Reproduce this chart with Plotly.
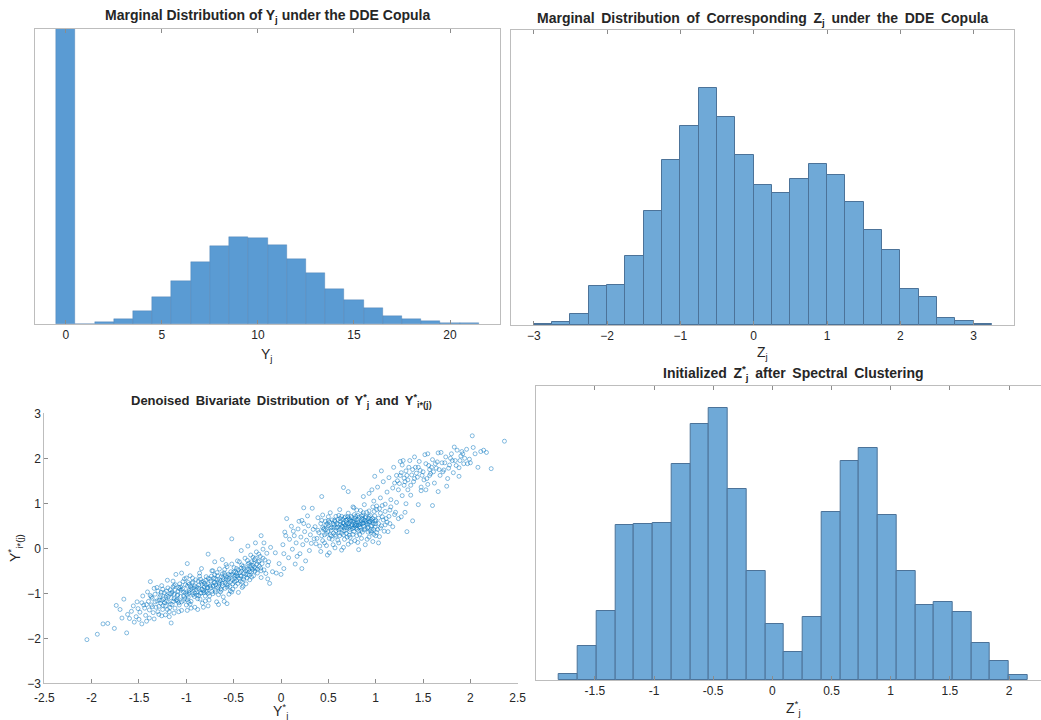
import plotly.graph_objects as go

# ---------------- data ----------------
# Panel 1: histogram of Y_j (integer bins)
p1_bins = list(range(0, 22))
p1_counts = [2000, 0, 6, 15, 39, 80, 130, 186, 233, 260, 257, 236, 195, 153,
             106, 71, 47, 24, 15, 8, 3, 2]
p1_ticks = [0, 5, 10, 15, 20]

# Panel 2: histogram of Z_j
p2_start, p2_width = -3.0, 0.25
p2_counts = [3, 8, 34, 117, 120, 207, 342, 494, 597, 710, 623, 509, 419, 396,
             437, 481, 450, 368, 285, 225, 108, 84, 20, 12, 3]
p2_ticks = [-3, -2, -1, 0, 1, 2, 3]

# Panel 4: histogram of Z*_j
p4_start, p4_width = -1.8026, 0.1584
p4_counts = [17, 102, 207, 464, 467, 471, 647, 768, 815, 572, 326, 167, 83,
             190, 503, 657, 696, 494, 326, 224, 233, 203, 110, 57, 14]
p4_ticks = [-1.5, -1, -0.5, 0, 0.5, 1, 1.5, 2]
p4_ticklabels = ["-1.5", "-1", "-0.5", "0", "0.5", "1", "1.5", "2"]

# Panel 3: scatter of (Y*_j, Y*_i*(j))
lower_cluster = [
    (-1.49,-1.42),(-1.47,-1.21),(-1.46,-1.06),(-1.44,-1.33),(-1.43,-1.49),(-1.41,-0.97),(-1.40,-1.18),
    (-1.39,-1.37),(-1.38,-0.74),(-1.37,-1.26),(-1.36,-1.11),(-1.35,-1.43),(-1.34,-0.89),(-1.33,-1.02),
    (-1.32,-1.31),(-1.31,-1.17),(-1.30,-0.95),(-1.29,-1.47),(-1.28,-1.08),(-1.27,-1.22),(-1.26,-0.83),
    (-1.25,-1.36),(-1.24,-1.13),(-1.23,-0.99),(-1.22,-1.28),(-1.21,-1.05),(-1.20,-0.71),(-1.19,-1.19),
    (-1.18,-1.41),(-1.17,-0.92),(-1.16,-1.10),(-1.15,-1.25),(-1.14,-0.86),(-1.13,-1.02),(-1.12,-1.33),
    (-1.11,-0.58),(-1.10,-1.14),(-1.09,-0.96),(-1.08,-1.21),(-1.07,-0.79),(-1.06,-1.07),(-1.05,-1.38),
    (-1.04,-0.90),(-1.03,-1.16),(-1.02,-0.68),(-1.01,-1.00),(-1.00,-1.26),(-0.99,-0.84),(-0.98,-1.09),
    (-0.97,-0.94),(-0.96,-0.61),(-0.95,-1.18),(-0.94,-0.77),(-0.93,-1.03),(-0.92,-0.88),(-0.91,-1.31),
    (-0.90,-0.70),(-0.89,-0.97),(-0.88,-1.12),(-0.87,-0.82),(-0.86,-0.55),(-0.85,-1.00),(-0.84,-0.91),
    (-0.83,-1.22),(-0.82,-0.74),(-0.81,-0.86),(-0.80,-1.06),(-0.79,-0.63),(-0.78,-0.95),(-0.77,-0.79),
    (-0.76,-1.15),(-0.75,-0.68),(-0.74,-0.88),(-0.73,-0.50),(-0.72,-1.01),(-0.71,-0.76),(-0.70,-0.59),
    (-0.69,-0.93),(-0.68,-1.19),(-0.67,-0.70),(-0.66,-0.84),(-0.65,-0.46),(-0.64,-0.97),(-0.63,-0.63),
    (-0.62,-0.78),(-0.61,-1.08),(-0.60,-0.55),(-0.59,-0.89),(-0.58,-0.69),(-0.57,-0.41),(-0.56,-0.82),
    (-0.55,-1.02),(-0.54,-0.60),(-0.53,-0.74),(-0.52,-0.35),(-0.51,-0.91),(-0.50,-0.53),(-0.49,-0.67),
    (-0.48,-0.84),(-0.47,-0.45),(-0.46,-0.62),(-0.45,-0.98),(-0.44,-0.30),(-0.43,-0.73),(-0.42,-0.51),
    (-0.41,-0.87),(-0.40,-0.40),(-0.39,-0.64),(-0.38,-0.22),(-0.37,-0.79),(-0.36,-0.47),(-0.35,-0.58),
    (-0.34,-0.33),(-0.33,-0.70),(-0.32,-0.15),(-0.31,-0.52),(-0.30,-0.38),(-0.29,-0.61),(-0.28,-0.25),
    (-0.27,-0.45),(-0.26,-0.08),(-0.25,-0.55),(-0.24,-0.30),(-0.23,-0.40),(-0.22,-0.18),(-0.21,-0.65),
    (-0.20,-0.34),(-0.19,-0.02),(-0.18,-0.48),(-0.17,-0.26),(-0.16,-0.56),(-0.15,-0.11),(-0.14,-0.38),
    (-1.285,-1.15),(-1.265,-0.98),(-1.245,-1.27),(-1.215,-1.09),(-1.195,-0.88),(-1.175,-1.32),
    (-1.155,-1.00),(-1.135,-1.18),(-1.115,-0.81),(-1.095,-1.05),(-1.075,-1.26),(-1.055,-0.93),
    (-1.035,-0.74),(-1.015,-1.12),(-0.995,-0.97),(-0.975,-1.20),(-0.955,-0.85),(-0.935,-0.66),
    (-0.915,-1.07),(-0.895,-0.92),(-0.875,-0.73),(-0.855,-1.13),(-0.835,-0.80),(-0.815,-0.99),
    (-0.795,-0.71),(-0.775,-0.87),(-0.755,-1.06),(-0.735,-0.62),(-0.715,-0.83),(-0.695,-0.97),
    (-0.675,-0.54),(-0.655,-0.75),(-0.635,-0.90),(-0.615,-0.66),(-0.595,-0.47),(-0.575,-0.80),
    (-0.555,-0.58),(-0.535,-0.95),(-0.515,-0.70),(-0.495,-0.43),(-0.475,-0.61),(-0.455,-0.78),
    (-0.435,-0.54),(-0.415,-0.37),(-0.395,-0.69),(-0.375,-0.50),(-0.355,-0.27),(-0.335,-0.60),
    (-0.315,-0.43),(-0.295,-0.20),(-0.275,-0.51),(-0.255,-0.35),(-0.235,-0.13),(-0.215,-0.44),
    (-1.21,-1.17),(-1.17,-1.01),(-1.13,-1.12),(-1.09,-1.17),(-1.06,-0.86),(-1.03,-1.06),(-0.99,-1.03),
    (-0.97,-0.80),(-0.94,-0.99),(-0.91,-0.84),(-0.89,-1.04),(-0.87,-0.89),(-0.84,-0.75),(-0.82,-0.94),
    (-0.79,-0.82),(-0.77,-1.00),(-0.74,-0.73),(-0.72,-0.85),(-0.69,-0.68),(-0.67,-0.88),(-0.64,-0.72),
    (-0.62,-0.57),(-0.59,-0.76),(-0.57,-0.64),(-0.54,-0.85),(-0.52,-0.58),(-0.49,-0.74),(-0.47,-0.56),
    (-0.44,-0.67),(-0.42,-0.44),(-0.39,-0.55),(-0.36,-0.66),(-0.33,-0.39),(-0.31,-0.30),(-0.28,-0.42),
    (-1.33,-1.19),(-1.31,-0.87),(-1.29,-1.29),(-1.27,-1.04),(-1.25,-0.91),(-1.23,-1.21),(-1.21,-0.95),
    (-1.19,-1.07),(-1.17,-1.24),(-1.15,-0.97),(-1.13,-0.83),(-1.11,-1.16),(-1.09,-1.03),(-1.07,-0.90),
    (-1.05,-1.19),(-1.03,-0.97),(-1.01,-0.81),(-0.99,-1.14),(-0.97,-0.99),(-0.95,-0.91),(-0.93,-0.75),
    (-0.91,-1.00),(-0.89,-0.86),(-0.87,-1.05),(-0.85,-0.69),(-0.83,-0.91),(-0.81,-0.78),(-0.79,-0.97),
    (-0.77,-0.67),(-0.75,-0.84),(-0.73,-0.96),(-0.71,-0.66),(-0.69,-0.81),(-0.67,-0.61),(-0.65,-0.79),
    (-0.63,-0.93),(-0.61,-0.70),(-0.59,-0.59),(-0.57,-0.86),(-0.55,-0.67),(-0.53,-0.52),(-0.51,-0.79),
    (-0.49,-0.62),(-0.47,-0.72),(-0.45,-0.48),(-0.43,-0.61),(-0.41,-0.75),(-0.39,-0.45),(-0.37,-0.58),
    (-0.35,-0.36),(-0.33,-0.52),(-0.31,-0.64),(-0.29,-0.33),(-0.27,-0.22),(-0.25,-0.46),(-0.23,-0.28),
    (-0.21,-0.50),(-0.19,-0.22),(-1.38,-1.05),(-1.36,-1.30),(-1.42,-1.25),(-1.20,-1.36),(-1.14,-0.73),
    (-1.00,-0.66),(-0.86,-0.62),(-0.72,-0.50),(-0.58,-0.36),(-0.46,-0.28),(-0.96,-1.24),(-0.80,-1.17),
    (-0.66,-1.03),(-0.52,-0.97),(-0.40,-0.84),(-1.08,-0.87),(-0.94,-0.88),(-0.78,-0.88),(-0.62,-0.83),
    (-0.48,-0.52),(-0.34,-0.47),(-1.26,-1.16),(-1.12,-0.93),(-0.98,-0.76),(-0.84,-0.99),(-0.70,-0.76),
    (-0.56,-0.70),(-0.42,-0.62),(-0.30,-0.47),
]
lower_tail = [
    (-2.05,-2.03),(-1.94,-1.91),(-1.88,-1.68),(-1.83,-1.67),(-1.76,-1.78),(-1.74,-1.27),(-1.70,-1.36),
    (-1.68,-1.55),(-1.66,-1.13),(-1.63,-1.88),(-1.62,-1.47),(-1.60,-1.56),(-1.58,-1.40),(-1.56,-1.28),
    (-1.55,-1.64),(-1.53,-1.52),(-1.52,-1.19),(-1.51,-1.34),(-1.50,-1.58),(-1.47,-1.68),(-1.45,-1.26),
    (-1.42,-1.62),(-1.39,-1.55),(-1.37,-1.08),(-1.34,-1.57),(-1.30,-1.41),(-1.26,-1.50),(-1.22,-1.48),
    (-1.18,-1.52),(-1.16,-1.66),(-1.13,-1.44),(-1.08,-1.41),(-0.99,-1.38),(-0.95,-1.33),(-0.88,-1.36),
    (-0.82,-1.31),(-0.77,-1.28),(-0.66,-1.25),(-0.60,-1.18),(-0.57,-1.23),
    (-0.99,-0.34),(-0.77,-0.13),(-0.52,0.21),(-0.35,0.05),(-0.21,0.28),(-0.12,-0.78),(-0.09,-0.52),
    (-0.05,-0.55),(0.00,-0.58),(-0.13,-0.30),(-0.06,-0.10),(-0.02,-0.34),(0.03,-0.45),(-0.27,0.12),
    (-0.42,-0.05),(-0.62,-0.25),(-0.84,-0.45),(-1.05,-0.55),(-0.11,0.02),(-0.70,-0.30),(-0.18,0.12),
    (-0.14,-0.68),
]
middle_points = [
    (0.02,0.08),(0.04,0.36),(0.06,0.66),(0.08,-0.21),(0.09,0.20),(0.11,0.49),(0.12,-0.02),(0.14,0.28),
    (0.15,-0.35),(0.16,0.12),(0.18,0.43),(0.19,0.60),(0.20,-0.12),(0.21,0.25),(0.22,-0.45),(0.23,0.08),
    (0.25,0.37),(0.26,-0.28),(0.27,0.18),(0.28,0.72),(0.29,0.50),(0.30,-0.05),(0.31,0.30),(0.32,0.11),
    (0.33,0.89),(0.34,0.42),(0.35,0.21),(0.05,0.28),(0.13,0.38),(0.24,0.55),(0.17,-0.18),(0.03,-0.12),
    (0.22,0.62),
]
upper_cluster = [
    (0.36,0.48),(0.38,0.22),(0.39,0.68),(0.40,0.35),(0.41,0.05),(0.42,0.55),(0.43,0.28),(0.44,0.74),
    (0.45,0.42),(0.46,0.12),(0.47,0.60),(0.48,0.33),(0.49,-0.15),(0.50,0.50),(0.51,0.22),(0.52,0.79),
    (0.53,0.40),(0.54,0.63),(0.55,0.08),(0.56,0.47),(0.57,0.30),(0.58,0.71),(0.59,0.55),(0.60,0.18),
    (0.61,0.41),(0.62,0.86),(0.63,0.60),(0.64,0.33),(0.65,0.49),(0.66,0.02),(0.67,0.68),(0.68,0.40),
    (0.69,0.57),(0.70,0.25),(0.71,0.78),(0.72,0.47),(0.73,0.63),(0.74,0.14),(0.75,0.52),(0.76,0.92),
    (0.77,0.37),(0.78,0.66),(0.79,0.55),(0.80,0.28),(0.81,0.73),(0.82,-0.03),(0.83,0.48),(0.84,0.84),
    (0.85,0.61),(0.86,0.36),(0.87,0.56),(0.88,0.97),(0.89,0.44),(0.90,0.70),(0.91,0.20),(0.92,0.58),
    (0.93,0.83),(0.94,0.39),(0.95,0.64),(0.96,0.50),(0.97,0.92),(0.98,0.31),(0.99,0.72),(1.00,0.55),
    (1.01,0.86),(1.02,0.42),(1.03,0.67),(1.04,0.26),(1.05,0.78),(1.06,0.50),(1.07,0.95),(1.08,0.63),
    (1.09,0.38),(1.10,0.82),(1.12,0.58),(1.14,0.71),(1.16,0.92),(1.18,0.48),(1.21,0.80),(1.24,0.66),
    (0.455,0.44),(0.475,0.52),(0.495,0.37),(0.515,0.58),(0.535,0.46),(0.555,0.34),(0.565,0.62),
    (0.585,0.45),(0.605,0.53),(0.615,0.35),(0.625,0.66),(0.645,0.48),(0.655,0.57),(0.665,0.39),
    (0.685,0.62),(0.695,0.46),(0.705,0.70),(0.715,0.55),(0.725,0.37),(0.735,0.60),(0.745,0.68),
    (0.755,0.44),(0.765,0.57),(0.775,0.75),(0.785,0.50),(0.795,0.63),(0.805,0.42),(0.815,0.58),
    (0.825,0.69),(0.835,0.53),(0.845,0.40),(0.855,0.66),(0.865,0.74),(0.875,0.49),(0.885,0.62),
    (0.895,0.56),(0.905,0.80),(0.915,0.45),(0.925,0.67),(0.935,0.59),(0.945,0.73),(0.955,0.35),
    (0.965,0.61),(0.975,0.55),(0.985,0.82),(0.995,0.47),(0.58,0.27),(0.63,0.44),(0.68,0.51),(0.72,0.29),
    (0.77,0.61),(0.82,0.38),(0.87,0.64),(0.92,0.47),(0.52,0.30),(0.60,0.64),(0.70,0.64),(0.80,0.51),
    (0.90,0.59),(0.66,0.55),(0.74,0.48),(0.79,0.71),(0.84,0.56),(0.56,0.52),(0.64,0.71),
    (0.37,0.10),(0.42,-0.07),(0.44,0.17),(0.48,0.06),(0.51,-0.10),(0.54,0.20),(0.57,0.01),(0.61,0.12),
    (0.64,-0.04),(0.67,0.20),(0.71,0.09),(0.73,0.24),(0.78,0.17),(0.81,0.13),(0.85,0.22),(0.89,0.08),
    (0.93,0.25),(0.97,0.15),(1.00,0.28),(1.03,0.12),(0.39,0.40),(0.46,0.30),(0.43,0.62),(0.50,0.70),
    (0.47,0.41),(0.50,0.61),(0.53,0.27),(0.55,0.55),(0.58,0.39),(0.60,0.47),(0.62,0.28),(0.63,0.53),
    (0.65,0.64),(0.67,0.45),(0.69,0.33),(0.70,0.54),(0.72,0.66),(0.73,0.42),(0.75,0.60),(0.76,0.31),
    (0.78,0.52),(0.79,0.45),(0.81,0.64),(0.82,0.52),(0.84,0.46),(0.85,0.72),(0.86,0.55),(0.88,0.41),
    (0.89,0.68),(0.91,0.54),(0.92,0.36),(0.94,0.60),(0.95,0.50),(0.97,0.66),(0.98,0.42),(1.00,0.62),
    (1.01,0.35),(1.03,0.55),(1.05,0.45),(1.07,0.70),(1.10,0.52),(0.57,0.60),(0.61,0.73),(0.66,0.30),
    (0.71,0.50),(0.74,0.71),(0.83,0.31),(0.87,0.79),(0.93,0.71),(0.99,0.60),(1.04,0.88),(1.11,0.66),
    (1.15,0.55),(0.44,0.46),(0.49,0.55),(0.52,0.45),(0.68,0.70),(0.77,0.46),(0.80,0.85),(0.96,0.39),
]
bridge_points = [
    (0.93,1.22),(0.98,1.05),(1.02,1.36),(1.05,1.12),(1.08,1.48),(1.10,0.98),(1.12,1.25),(1.14,1.57),
    (1.16,1.08),(1.18,1.34),(1.20,1.45),(1.22,1.02),(1.24,1.30),(1.26,1.62),(1.28,1.17),(1.30,1.40),
    (1.32,0.99),(1.34,1.52),(0.96,1.30),(1.01,0.94),(0.87,1.15),(0.66,1.35),(0.71,1.26),(0.43,1.15),
    (0.24,0.90),(0.77,0.90),(1.13,0.37),(1.33,0.37),(1.39,0.61),(1.20,0.75),(1.27,0.70),(1.31,0.80),
    (1.15,0.85),(0.99,1.60),(1.06,1.72),(1.19,1.80),
]
upper_tail = [
    (1.22,1.62),(1.25,1.44),(1.28,1.85),(1.30,1.56),(1.32,1.72),(1.34,1.30),(1.36,1.95),(1.38,1.63),
    (1.40,1.48),(1.42,1.80),(1.44,1.58),(1.46,1.93),(1.48,1.36),(1.50,1.70),(1.52,2.08),(1.54,1.55),
    (1.56,1.84),(1.58,1.66),(1.60,1.97),(1.62,1.45),(1.64,1.78),(1.66,2.12),(1.68,1.62),(1.70,1.90),
    (1.72,1.74),(1.74,2.03),(1.76,1.55),(1.78,1.85),(1.80,2.10),(1.82,1.68),(1.84,1.95),(1.86,2.18),
    (1.88,1.79),(1.90,2.05),(1.93,1.88),(1.96,2.20),(1.99,1.98),(2.02,2.50),(2.03,2.24),(2.05,2.10),
    (2.08,1.80),(2.11,2.15),(2.14,2.18),(2.17,2.13),(2.22,1.77),(2.36,2.38),(1.45,0.97),(1.60,0.95),
    (1.48,1.28),(1.37,1.18),(1.53,1.30),(1.66,1.26),(1.75,1.38),(1.26,1.93),(1.41,2.03),(1.55,2.10),
    (1.69,2.13),(1.83,2.25),(1.91,2.15),(1.47,1.73),(1.57,1.75),(1.63,1.88),(1.51,1.52),(1.43,1.67),
    (1.71,1.70),(1.79,2.00),(1.35,1.80),(1.88,1.60),(2.00,1.90),(1.94,2.00),
    (1.23,1.50),(1.27,1.68),(1.31,1.48),(1.33,1.62),(1.39,1.75),(1.41,1.55),(1.45,1.80),(1.49,1.62),
    (1.53,1.88),(1.57,1.62),(1.59,1.80),(1.61,1.70),(1.65,1.92),(1.67,1.75),(1.73,1.90),(1.77,1.78),
    (1.81,1.95),(1.85,1.84),(1.89,1.95),(1.92,2.10),(1.29,1.95),(1.37,1.40),(1.55,1.42),(1.97,1.88),
]
p3_xticks = [-2.5, -2, -1.5, -1, -0.5, 0, 0.5, 1, 1.5, 2, 2.5]
p3_xticklabels = ["-2.5", "-2", "-1.5", "-1", "-0.5", "0", "0.5", "1", "1.5", "2", "2.5"]
p3_yticks = [-3, -2, -1, 0, 1, 2, 3]

# ---------------- figure ----------------
W, H = 1041, 720
def fx(p):
    return p / W
def fy(p):
    return 1 - p / H

FONT = "Liberation Sans, Arial, Helvetica, sans-serif"
TXT = "#262626"
AXC = "#BDBDBD"
TICKC = "#8C8C8C"
FILL1 = "#5A9BD3"
FILL2 = "#6FA9D7"
EDGE2 = "#4C7399"

fig = go.Figure()

fig.add_trace(go.Bar(x=p1_bins, y=p1_counts, width=1.0,
                     marker=dict(color=FILL1, line=dict(color="rgba(60,110,160,0.6)", width=0.5)),
                     xaxis="x", yaxis="y", showlegend=False))

p2_centers = [p2_start + p2_width * (i + 0.5) for i in range(len(p2_counts))]
fig.add_trace(go.Bar(x=p2_centers, y=p2_counts, width=p2_width,
                     marker=dict(color=FILL2, line=dict(color=EDGE2, width=1)),
                     xaxis="x2", yaxis="y2", showlegend=False))

pts = lower_tail + lower_cluster + middle_points + upper_cluster + bridge_points + upper_tail
fig.add_trace(go.Scatter(x=[p[0] for p in pts], y=[p[1] for p in pts], mode="markers",
                         marker=dict(symbol="circle-open", size=4, color="rgba(0,114,189,0.6)", line=dict(width=0.8)),
                         xaxis="x3", yaxis="y3", showlegend=False))

p4_centers = [p4_start + p4_width * (i + 0.5) for i in range(len(p4_counts))]
fig.add_trace(go.Bar(x=p4_centers, y=p4_counts, width=p4_width,
                     marker=dict(color=FILL2, line=dict(color=EDGE2, width=1)),
                     xaxis="x4", yaxis="y4", showlegend=False))

tickfont = dict(family=FONT, size=12, color=TXT)
def xax(domain, anchor, rng, tickvals, ticktext=None, mirror="ticks", standoff=0):
    d = dict(domain=domain, anchor=anchor, range=rng, tickvals=tickvals, showline=True, linecolor=AXC,
             linewidth=1, mirror=mirror, ticks="inside", ticklen=4, tickcolor=TICKC, showgrid=False,
             zeroline=False, tickfont=tickfont, fixedrange=True, automargin=False)
    if standoff:
        d["ticklabelstandoff"] = standoff
    if ticktext is not None:
        d["ticktext"] = ticktext
    return d
def yax_hidden(domain, anchor, rng, mirror=True):
    return dict(domain=domain, anchor=anchor, range=rng, showline=True, linecolor=AXC, linewidth=1,
                mirror=mirror, showticklabels=False, ticks="", showgrid=False, zeroline=False,
                fixedrange=True, automargin=False)

fig.update_layout(
    width=W, height=H, margin=dict(l=0, r=0, t=0, b=0, pad=0, autoexpand=False),
    paper_bgcolor="white", plot_bgcolor="white", bargap=0,
    font=dict(family=FONT, color=TXT),
    xaxis=xax([fx(35), fx(500)], "y", [-1.6, 22.6], p1_ticks),
    yaxis=yax_hidden([fy(324), fy(29)], "x", [0, 885]),
    xaxis2=xax([fx(511), fx(1014)], "y2", [-3.31, 3.55], p2_ticks),
    yaxis2=yax_hidden([fy(325), fy(30)], "x2", [0, 884]),
    xaxis3=xax([fx(44.3), fx(517.7)], "y3", [-2.5, 2.5], p3_xticks, p3_xticklabels, mirror=False, standoff=3),
    yaxis3=dict(domain=[fy(683.3), fy(413.3)], anchor="x3", range=[-3, 3], tickvals=p3_yticks,
                showline=True, linecolor=AXC, linewidth=1, ticks="inside", ticklen=4, tickcolor=TICKC,
                showgrid=False, zeroline=False, tickfont=tickfont, fixedrange=True, automargin=False),
    xaxis4=xax([fx(535.7), 1.0], "y4", [-2.0, 2.27], p4_ticks, p4_ticklabels),
    yaxis4=yax_hidden([fy(680), fy(386)], "x4", [0, 882], mirror=False),
)

sp = " \u2009"
def ann(x, y, text, size, bold=False, angle=0):
    fig.add_annotation(x=fx(x), y=fy(y), xref="paper", yref="paper", text=("<b>%s</b>" % text) if bold else text,
                       showarrow=False, xanchor="center", yanchor="middle", textangle=angle,
                       font=dict(family=FONT, size=size, color=TXT))

ann(267.5, 16, "Marginal Distribution of Y<sub>j</sub> under the DDE Copula", 14, True)
ann(762.5, 19, sp.join(["Marginal", "Distribution", "of", "Corresponding", "Z<sub>j</sub>", "under", "the", "DDE", "Copula"]), 14, True)
ann(281, 401, sp.join(["Denoised", "Bivariate", "Distribution", "of", "Y<sup>*</sup><sub>j</sub>", "and", "Y<sup>*</sup><sub>i*(j)</sub>"]), 13, True)
ann(793, 373, sp.join(["Initialized", "Z<sup>*</sup><sub>j</sub>", "after", "Spectral", "Clustering"]), 14, True)

ann(267, 355, "Y<sub>j</sub>", 14)
ann(762, 353, "Z<sub>j</sub>", 14)
ann(280, 711, "Y<sup>*</sup><sub>j</sub>", 14)
ann(793, 708, "Z<sup>*</sup><sub>j</sub>", 14)
ann(15, 548, "Y<sup>*</sup><sub>i*(j)</sub>", 14, angle=-90)

fig.write_html("out.html")
